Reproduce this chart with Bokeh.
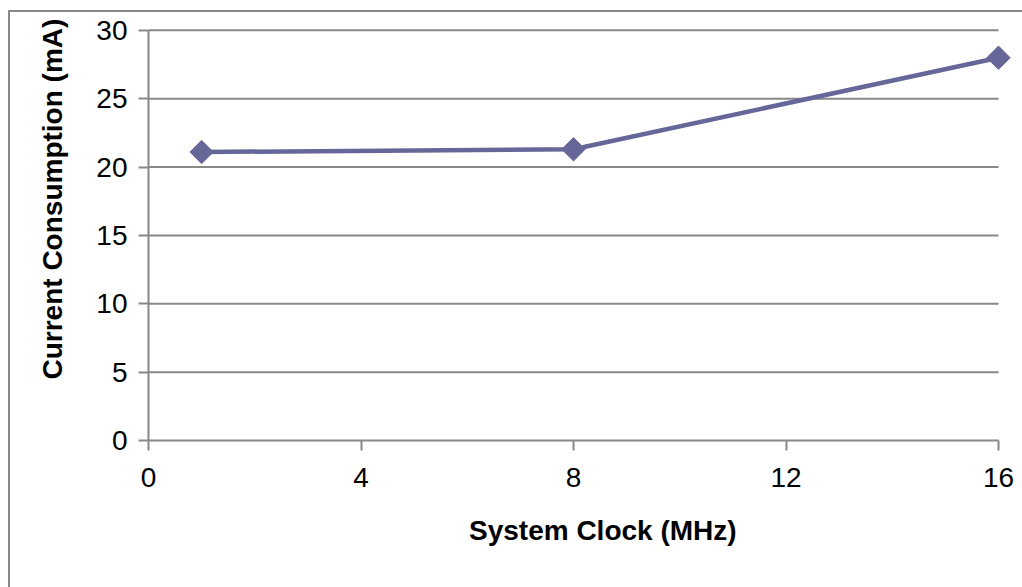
import numpy as np
from bokeh.plotting import figure
from bokeh.models import Range1d, FixedTicker, Title
from bokeh.embed import file_html
from bokeh.resources import INLINE

# Data
clock_mhz = [1, 8, 16]
current_ma = [21.1, 21.3, 28.0]
x_ticks = [0, 4, 8, 12, 16]
y_ticks = [0, 5, 10, 15, 20, 25, 30]
x_title = "System Clock (MHz)"
y_title = "Current Consumption (mA)"

GRAY = "#888888"
SERIES = "#666699"
FONT = "Liberation Sans"

PX_X = 850 / 16.0   # pixels per MHz
FRAME_W = 864
FRAME_H = 417

p = figure(width=1012, height=575, output_backend="svg", toolbar_location=None,
           x_range=Range1d(0, FRAME_W / PX_X), y_range=Range1d(0, 30.5),
           frame_width=FRAME_W, frame_height=FRAME_H,
           min_border_left=138, min_border_right=10, min_border_top=11, min_border_bottom=147)
p.styles = {"border-top": f"2px solid {GRAY}", "border-left": f"2px solid {GRAY}",
            "margin-top": "10px", "margin-left": "8px"}
p.outline_line_color = None
p.background_fill_color = "white"
p.border_fill_color = "white"

p.xgrid.grid_line_color = None
p.ygrid.grid_line_color = None

# horizontal gridlines spanning the x-axis extent
gy = y_ticks[1:]
p.segment(x0=[x_ticks[0]] * len(gy), y0=gy, x1=[x_ticks[-1]] * len(gy), y1=gy,
          line_color=GRAY, line_width=2)

for ax in (p.xaxis, p.yaxis):
    ax.axis_line_color = GRAY
    ax.axis_line_width = 2
    ax.major_tick_line_color = GRAY
    ax.major_tick_line_width = 2
    ax.major_tick_out = 10
    ax.major_tick_in = 0
    ax.minor_tick_line_color = None
    ax.major_label_text_font = FONT
    ax.major_label_text_font_size = "28px"
    ax.major_label_text_color = "black"
p.xaxis.major_label_standoff = 17
p.yaxis.major_label_standoff = 11
p.xaxis.ticker = FixedTicker(ticks=x_ticks)
p.yaxis.ticker = FixedTicker(ticks=y_ticks)
p.xaxis.bounds = (x_ticks[0], x_ticks[-1])
p.yaxis.bounds = (y_ticks[0], y_ticks[-1])

p.line(clock_mhz, current_ma, line_color=SERIES, line_width=4.5)
p.scatter(clock_mhz, current_ma, marker="square", size=16.5, angle=np.pi / 4,
          fill_color=SERIES, line_color=SERIES)

p.add_layout(Title(text=x_title, align="left", offset=320.5, vertical_align="middle",
                   standoff=48, text_font=FONT, text_font_size="28px",
                   text_font_style="bold", text_color="black"), "below")
p.add_layout(Title(text=y_title, align="left", offset=61, vertical_align="middle",
                   standoff=50, text_font=FONT, text_font_size="28px",
                   text_font_style="bold", text_color="black"), "left")

open("out.html", "w").write(file_html(p, INLINE))
